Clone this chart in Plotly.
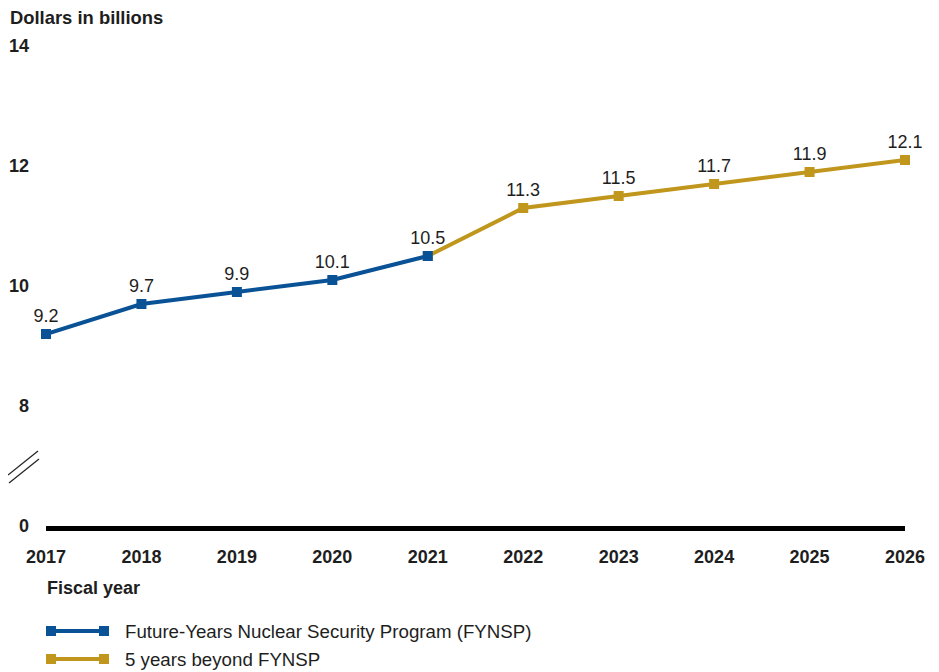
import plotly.graph_objects as go

# Data
years_fynsp = [2017, 2018, 2019, 2020, 2021]
vals_fynsp = [9.2, 9.7, 9.9, 10.1, 10.5]
years_beyond = [2021, 2022, 2023, 2024, 2025, 2026]
vals_beyond = [10.5, 11.3, 11.5, 11.7, 11.9, 12.1]
# broken axis: "0" is drawn where 6 would be
ytick_vals = [6, 8, 10, 12, 14]
ytick_text = ["0", "8", "10", "12", "14"]
xtick_vals = list(range(2017, 2027))

BLUE = "#0a5296"
GOLD = "#c0961c"
TXT = "#1e1e1e"
FONT = "Liberation Sans, Arial, sans-serif"
FS = 18

OFF = 8  # page body margin
W, H = 939 - OFF, 672 - OFF
# screen-pixel positions of plot area
SX0, SX1, SY0, SY1 = 46, 905, 46, 526
L, R = SX0 - OFF, W - (SX1 - OFF)
T, B = SY0 - OFF, H - (SY1 - OFF)

fig = go.Figure()

fig.add_trace(go.Scatter(
    x=years_beyond, y=vals_beyond, mode="lines+markers+text",
    line=dict(color=GOLD, width=4),
    marker=dict(symbol="square", size=10, color=GOLD),
    text=[""] + [f"{v:.1f}" for v in vals_beyond[1:]],
    textposition="top center",
    textfont=dict(family=FONT, size=FS, color=TXT),
    cliponaxis=False, showlegend=False,
))
fig.add_trace(go.Scatter(
    x=years_fynsp, y=vals_fynsp, mode="lines+markers+text",
    line=dict(color=BLUE, width=4),
    marker=dict(symbol="square", size=10, color=BLUE),
    text=[f"{v:.1f}" for v in vals_fynsp],
    textposition="top center",
    textfont=dict(family=FONT, size=FS, color=TXT),
    cliponaxis=False, showlegend=False,
))

def px_x(p):
    return (p - SX0) / (SX1 - SX0)

def px_y(p):
    return (SY1 - p) / (SY1 - SY0)

shapes = []
# axis break marks
for (x0, y0, x1, y1) in [(8, 475, 38, 451), (9, 483, 39, 459)]:
    shapes.append(dict(type="line", xref="paper", yref="paper",
                       x0=px_x(x0), y0=px_y(y0), x1=px_x(x1), y1=px_y(y1),
                       line=dict(color="#222222", width=1.3)))

# custom legend
legend_items = [(631, BLUE, "Future-Years Nuclear Security Program (FYNSP)"),
                (659, GOLD, "5 years beyond FYNSP")]
annotations = []
for py, col, label in legend_items:
    shapes.append(dict(type="line", xref="paper", yref="paper",
                       x0=px_x(51), x1=px_x(104), y0=px_y(py), y1=px_y(py),
                       line=dict(color=col, width=4)))
    for cx in (51, 104):
        shapes.append(dict(type="rect", xref="paper", yref="paper",
                           x0=px_x(cx - 5), x1=px_x(cx + 5),
                           y0=px_y(py + 5), y1=px_y(py - 5),
                           fillcolor=col, line=dict(width=0)))
    annotations.append(dict(text=label, xref="paper", yref="paper",
                            x=px_x(123), y=px_y(py), xanchor="left", yanchor="middle",
                            showarrow=False,
                            font=dict(family=FONT, size=18.7, color=TXT)))

annotations.append(dict(text="<b>Dollars in billions</b>", xref="paper", yref="paper",
                        x=px_x(8), y=px_y(18), xanchor="left", yanchor="middle",
                        showarrow=False, font=dict(family=FONT, size=18.4, color=TXT)))
annotations.append(dict(text="<b>Fiscal year</b>", xref="paper", yref="paper",
                        x=px_x(45), y=px_y(588), xanchor="left", yanchor="middle",
                        showarrow=False, font=dict(family=FONT, size=FS, color=TXT)))

fig.update_layout(
    width=W, height=H,
    margin=dict(l=L, r=R, t=T, b=B, autoexpand=False),
    plot_bgcolor="white", paper_bgcolor="white",
    font=dict(family=FONT, size=FS, color=TXT),
    shapes=shapes, annotations=annotations,
    xaxis=dict(range=[2017, 2026], tickvals=xtick_vals,
               ticktext=[f"<b>{y}</b>" for y in xtick_vals],
               showgrid=False, zeroline=False, automargin=False,
               showline=True, linecolor="black", linewidth=5,
               ticks="", ticklabelstandoff=10,
               tickfont=dict(family=FONT, size=FS, color=TXT)),
    yaxis=dict(range=[6, 14], tickvals=ytick_vals,
               ticktext=[f"<b>{t}</b>" for t in ytick_text],
               showgrid=False, zeroline=False, showline=False, automargin=False,
               ticks="", ticklabelstandoff=16,
               tickfont=dict(family=FONT, size=FS, color=TXT)),
)

fig.write_html("out.html")
